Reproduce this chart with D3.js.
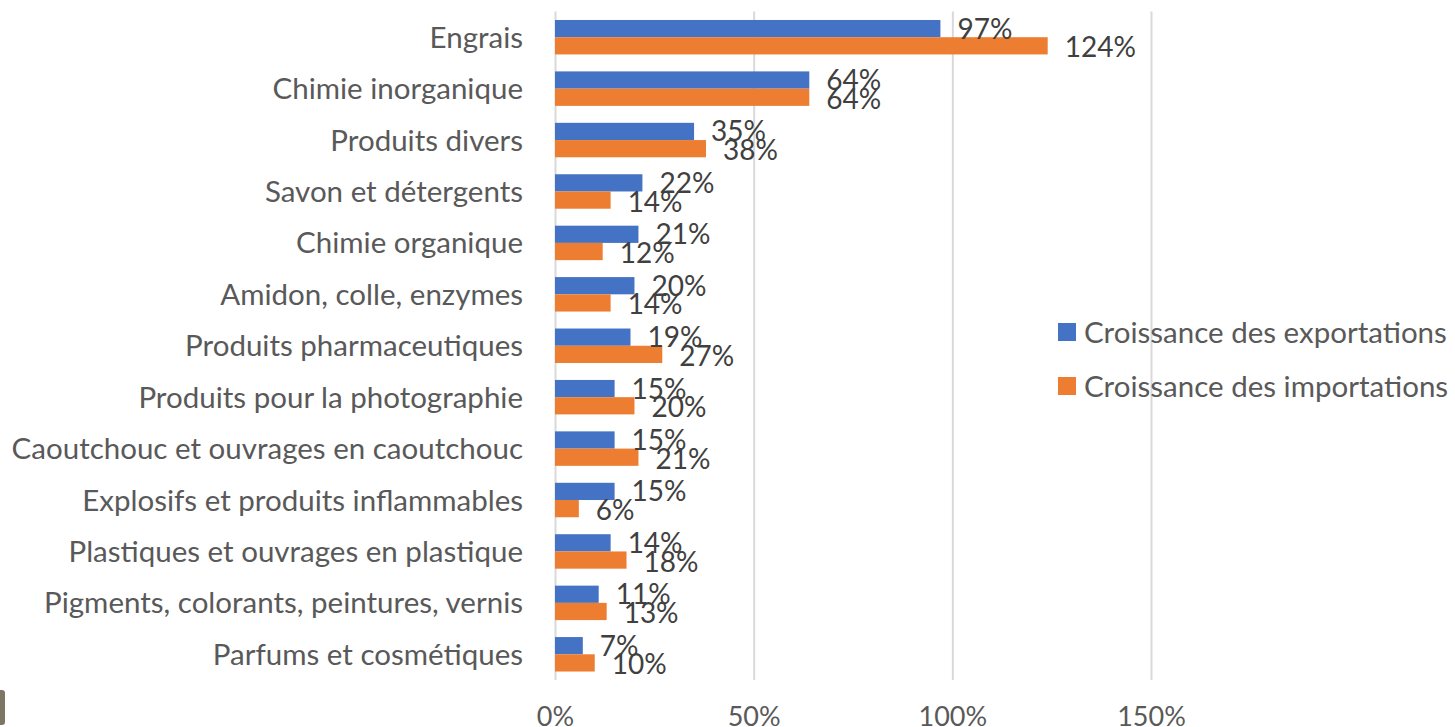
<!DOCTYPE html>
<html lang="fr">
<head>
    <meta charset="UTF-8">
    <title>Croissance des exportations et importations</title>
    <script src="https://d3js.org/d3.v7.min.js"></script>
    <style>
        body { margin: 0; background: #fff; }
        text { font-family: Lato, "Noto Sans", sans-serif; }
    </style>
</head>
<body>
    <div id="my_bar"></div>
    <script>
        // data
        const categories = [
            "Engrais", "Chimie inorganique", "Produits divers", "Savon et détergents",
            "Chimie organique", "Amidon, colle, enzymes", "Produits pharmaceutiques",
            "Produits pour la photographie", "Caoutchouc et ouvrages en caoutchouc",
            "Explosifs et produits inflammables", "Plastiques et ouvrages en plastique",
            "Pigments, colorants, peintures, vernis", "Parfums et cosmétiques"
        ];
        const exportations = [97, 64, 35, 22, 21, 20, 19, 15, 15, 15, 14, 11, 7];
        const importations = [124, 64, 38, 14, 12, 14, 27, 20, 21, 6, 18, 13, 10];
        const seriesNames = ["Croissance des exportations", "Croissance des importations"];
        const tickValues = [0, 50, 100, 150];

        const colors = ["#4472C4", "#ED7D31"];
        const W = 1455, H = 727;
        const plot = {left: 555, right: 1151, top: 11.5, bottom: 680};

        const svg = d3.select('#my_bar')
            .append('svg')
                .attr('width', W)
                .attr('height', H);

        const x = d3.scaleLinear()
            .domain([0, 150])
            .range([plot.left, plot.right]);

        const y = d3.scaleBand()
            .domain(categories)
            .range([plot.top, plot.bottom])
            .paddingInner(0.33)
            .paddingOuter(0.165);

        const y1 = d3.scaleBand()
            .domain([0, 1])
            .range([0, y.bandwidth()]);

        // gridlines
        svg.append("g")
            .attr("transform", `translate(0, ${plot.bottom})`)
            .call(d3.axisBottom(x).tickValues(tickValues).tickSize(-(plot.bottom - plot.top)).tickFormat(""))
            .call(g => g.select(".domain").remove())
            .call(g => g.selectAll("line").attr("stroke", "#D9D9D9").attr("stroke-width", 2));

        // tick labels
        svg.append("g")
            .attr("transform", `translate(0, ${plot.bottom})`)
            .call(d3.axisBottom(x).tickValues(tickValues).tickSize(0).tickFormat(d => d + "%"))
            .call(g => g.select(".domain").remove())
            .call(g => g.selectAll("text")
                .attr("y", 46)
                .attr("dy", 0)
                .attr("fill", "#595959")
                .style("font-size", "27px"));

        const rows = categories.map((c, i) => ({cat: c, vals: [exportations[i], importations[i]]}));

        const row = svg.selectAll("g.row")
            .data(rows)
            .join("g")
                .attr("class", "row")
                .attr("transform", d => `translate(0, ${y(d.cat)})`);

        row.selectAll("rect")
            .data(d => d.vals.map((v, k) => ({v, k})))
            .join("rect")
                .attr("x", x(0))
                .attr("y", d => y1(d.k))
                .attr("width", d => x(d.v) - x(0))
                .attr("height", y1.bandwidth())
                .attr("fill", d => colors[d.k]);

        // data labels
        row.selectAll("text.lbl")
            .data(d => d.vals.map((v, k) => ({v, k})))
            .join("text")
                .attr("class", "lbl")
                .attr("x", d => x(d.v) + 17)
                .attr("y", d => y1(d.k) + y1.bandwidth() / 2 + 10 + d.k * 1.5)
                .attr("fill", "#404040")
                .style("font-size", "28px")
                .text(d => d.v + "%");

        // category labels
        svg.append("g")
            .selectAll("text")
            .data(categories)
            .join("text")
                .attr("x", 523)
                .attr("y", d => y(d) + y.bandwidth() / 2 + 10.5)
                .attr("text-anchor", "end")
                .attr("fill", "#595959")
                .style("font-size", "29.5px")
                .text(d => d);

        // legend
        const legend = svg.append("g")
            .selectAll("g")
            .data(seriesNames)
            .join("g")
                .attr("transform", (d, i) => `translate(1058, ${323 + i * 54})`);
        legend.append("rect")
            .attr("width", 18)
            .attr("height", 18)
            .attr("fill", (d, i) => colors[i]);
        legend.append("text")
            .attr("x", 26)
            .attr("y", 19.5)
            .attr("fill", "#595959")
            .style("font-size", "29.5px")
            .text(d => d);

        // bit of cropped image at the bottom left
        svg.append("rect")
            .attr("x", -4).attr("y", 690)
            .attr("width", 9).attr("height", 35)
            .attr("rx", 3)
            .attr("fill", "#7d7664");
    </script>
</body>
</html>
